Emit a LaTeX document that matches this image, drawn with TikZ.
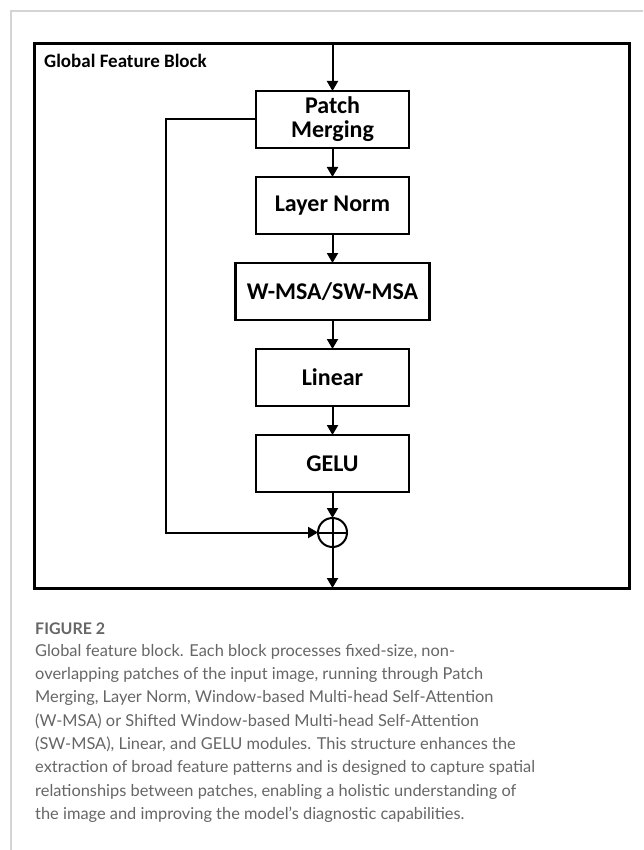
\documentclass[tikz,border=0pt]{standalone}
\usepackage{fontspec}
\setmainfont{Carlito}
\newfontfamily\capfont{Lato}
\usetikzlibrary{positioning, arrows.meta}

\definecolor{framegray}{HTML}{D4D4D4}
\definecolor{capgray}{HTML}{666666}

\tikzset{
  blockbox/.style={draw, line width=2.5pt, minimum width=153pt, minimum height=57pt,
    inner sep=0pt, outer sep=0pt, align=center, font=\fontsize{24}{24}\selectfont\bfseries},
  flow/.style={-{Triangle[length=10pt,width=11pt]}, line width=2pt},
}

\begin{document}
\begin{tikzpicture}[x=1pt, y=-1pt, node distance=29pt]
\useasboundingbox (0,0) rectangle (643,850);
% page frame %
\draw[framegray, line width=1.2pt] (643,11) -- (11,11) -- (11,850);
% outer block %
\node[draw, line width=3pt, minimum width=595pt, minimum height=544pt, inner sep=0pt, outer sep=0pt] (blk) at (332.25,316) {};
\node[anchor=base west, inner sep=0pt, font=\fontsize{19}{22}\selectfont\bfseries] (title) at (44,68) {Global Feature Block};
% nodes %
\node[blockbox] (pm) at (332.5,119.5) {Patch\\Merging};
\node[blockbox, below=of pm] (ln) {Layer Norm};
\node[blockbox, below=of ln, minimum width=194pt] (msa) {W-MSA/SW-MSA};
\node[blockbox, below=of msa] (lin) {Linear};
\node[blockbox, below=of lin] (gelu) {GELU};
\node[circle, draw, line width=2pt, minimum size=29pt, inner sep=0pt, outer sep=0pt, below=26pt of gelu] (sum) {};
\draw[line width=2pt] (sum.north) -- (sum.south) (sum.west) -- (sum.east);
% edges %
\draw[flow] (pm |- blk.north) -- (pm);
\draw[flow] (pm) -- (ln);
\draw[flow] (ln) -- (msa);
\draw[flow] (msa) -- (lin);
\draw[flow] (lin) -- (gelu);
\draw[flow] (gelu) -- (sum);
\draw[flow] (pm.west) -- ++(-90,0) |- (sum.west);
\draw[flow] (sum) -- (sum |- blk.south);
% caption %
\node[anchor=base west, inner sep=0pt, text=capgray, font=\capfont\bfseries\fontsize{16}{18}\selectfont] (fig) at (35,634) {FIGURE 2};
\node[anchor=north west, inner sep=0pt, align=left, text=capgray, font=\capfont\fontsize{16.4}{23.3}\selectfont] (cap) at (35,644) {Global feature block. Each block processes fixed-size, non-\\
overlapping patches of the input image, running through Patch\\
Merging, Layer Norm, Window-based Multi-head Self-Attention\\
(W-MSA) or Shifted Window-based Multi-head Self-Attention\\
(SW-MSA), Linear, and GELU modules. This structure enhances the\\
extraction of broad feature patterns and is designed to capture spatial\\
relationships between patches, enabling a holistic understanding of\\
the image and improving the model’s diagnostic capabilities.};
\end{tikzpicture}
\end{document}
